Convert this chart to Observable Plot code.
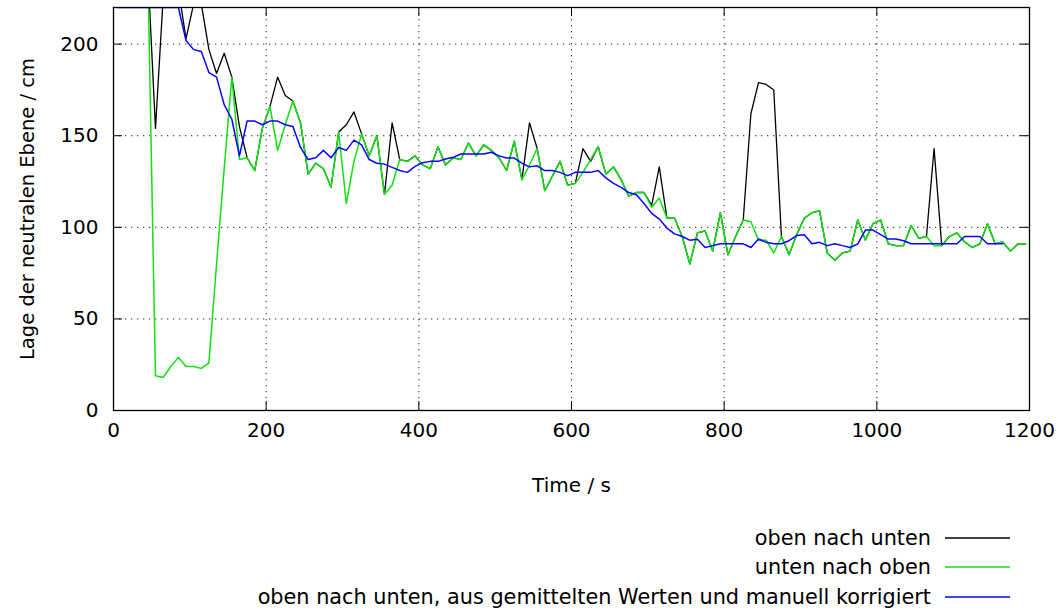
<!DOCTYPE html>
<html>
<head>
<meta charset="utf-8">
<script src="https://cdn.jsdelivr.net/npm/d3@7"></script>
<script src="https://cdn.jsdelivr.net/npm/@observablehq/plot@0.6"></script>
<style>
  body { margin: 0; background: #fff; font-family: "DejaVu Sans", sans-serif; }
  #wrap { position: relative; width: 1062px; height: 614px; overflow: hidden; }
  .lg { position: absolute; left: 0; width: 1062px; height: 24px; font-size: 20.8px; line-height: 24px; color: #000; }
  .lg .t { position: absolute; right: 131px; top: 0; white-space: nowrap; }
  .lg svg { position: absolute; left: 945px; top: 0; }
</style>
</head>
<body>
<div id="wrap"><div id="chart"></div><div id="legend"></div></div>
<script>
// Sample times (s)
const times = [5,15,25,35,45,55,65,75,85,95,105,115,125,135,145,155,165,175,185,195,
  205,215,225,235,245,255,265,275,285,295,305,315,325,335,345,355,365,375,385,395,
  405,415,425,435,445,455,465,475,485,495,505,515,525,535,545,555,565,575,585,595,
  605,615,625,635,645,655,665,675,685,695,705,715,725,735,745,755,765,775,785,795,
  805,815,825,835,845,855,865,875,885,895,905,915,925,935,945,955,965,975,985,995,
  1005,1015,1025,1035,1045,1055,1065,1075,1085,1095,1105,1115,1125,1135,1145,1155,1165,1175,1185,1195];

// "oben nach unten"
const obenNachUnten = [240,240,240,240,240,154,225,240,230,203,
  222,222,197,184,195,182,155,138,131,154,
  166,182,172,169,157,129,135,132,122,152,
  156,163,151,139,150,118,157,137,136,139,
  134,132,144,134,138,137,146,139,145,142,
  138,131,147,126,157,143,120,128,136,123,
  124,143,136,144,129,133,126,117,119,119,
  112,133,105,105,95,80,97,98,87,108,
  85,95,104,162,179,178,175,95,85,96,
  105,108,109,86,82,86,87,104,93,102,
  104,91,90,90,101,94,95,143,90,95,
  97,92,89,91,102,91,92,87,91,91];

// "unten nach oben"
const untenNachOben = [240,240,240,240,240,19,18,24,29,24,
  24,23,26,80,132,182,137,138,131,154,
  166,142,156,169,157,129,135,132,122,152,
  113,136,151,139,150,118,123,137,136,139,
  134,132,144,134,138,137,146,139,145,142,
  138,131,147,126,134,143,120,128,136,123,
  124,130,137,144,129,133,126,117,119,119,
  111,116,105,105,95,80,97,98,87,108,
  85,95,104,103,93,93,86,95,85,96,
  105,108,109,86,82,86,87,104,93,102,
  104,91,90,90,101,94,95,90,90,95,
  97,92,89,91,102,91,92,87,91,91];

// "oben nach unten, aus gemittelten Werten und manuell korrigiert"
const gemittelt = [220,220,220,220,220,220,220,220,220,202,
  197,196,184.5,182,167,159,139,158,158,156,
  158,158,156,155,143.6,137,138,142,138,143.6,
  142,147.6,145,137,135,134.5,132.7,131,130,133.3,
  135.3,136,136,137.3,138.2,140,140,140,140,141,
  139,137.8,137.8,135,133,133.6,131,131,130,128.2,
  130,130,130,131,127,124,121.8,119,117.8,113,
  107.6,104.5,99.6,96.4,95,93,93.5,89,90,91,
  91,91,91,89,93.6,91.8,91,91,92.7,95.5,
  96,91,91.8,90,91,90,89,91,98.5,98.5,
  96,93.6,93.6,92.7,91,91,91,91,91,91,
  91,95,95,95,91,91,91];

const xTicks = [0,200,400,600,800,1000,1200];
const yTicks = [0,50,100,150,200];
const seriesNames = ["oben nach unten", "unten nach oben",
  "oben nach unten, aus gemittelten Werten und manuell korrigiert"];
const seriesColors = ["#000000", "#11e011", "#0505ff"];
const xLabel = "Time / s";
const yLabel = "Lage der neutralen Ebene / cm";

const FONT = "DejaVu Sans";
const W = 1062, H = 510, ML = 113, MR = 33, MT = 7, MB = 100;
const pw = W - ML - MR, ph = H - MT - MB;

const mk = (vals) => vals.map((v, i) => ({t: times[i], v}));
const dBlack = mk(obenNachUnten), dGreen = mk(untenNachOben), dBlue = mk(gemittelt);

const grid = {stroke: "#000", strokeOpacity: 0.85, strokeWidth: 1, strokeDasharray: "1.3,4.7"};

const chart = Plot.plot({
  width: W, height: H,
  marginLeft: ML, marginRight: MR, marginTop: MT, marginBottom: MB,
  style: {fontFamily: FONT, fontSize: "20px", color: "#000", background: "#fff", overflow: "visible"},
  x: {domain: [0, 1200]},
  y: {domain: [0, 220]},
  marks: [
    Plot.gridX(xTicks, grid),
    Plot.gridY(yTicks, grid),
    Plot.tickX(xTicks, {x: d => d, insetTop: ph - 9, stroke: "#000"}),
    Plot.tickX(xTicks, {x: d => d, insetBottom: ph - 9, stroke: "#000"}),
    Plot.tickY(yTicks, {y: d => d, insetRight: pw - 9, stroke: "#000"}),
    Plot.tickY(yTicks, {y: d => d, insetLeft: pw - 9, stroke: "#000"}),
    Plot.line(dBlack, {x: "t", y: "v", stroke: seriesColors[0], strokeWidth: 1.3, clip: true}),
    Plot.line(dGreen, {x: "t", y: "v", stroke: seriesColors[1], strokeWidth: 1.5, clip: true}),
    Plot.line(dBlue, {x: "t", y: "v", stroke: seriesColors[2], strokeWidth: 1.5, clip: true}),
    Plot.frame({stroke: "#000", strokeWidth: 1.3}),
    Plot.axisX(xTicks, {tickSize: 0, tickPadding: 12, label: null, fontSize: 20, tickFormat: d => String(d)}),
    Plot.axisY(yTicks, {tickSize: 0, tickPadding: 15, label: null, fontSize: 20, tickFormat: d => String(d)}),
    Plot.text([xLabel], {frameAnchor: "bottom", dy: 75, lineAnchor: "middle", text: d => d, fontSize: 20}),
    Plot.text([yLabel], {frameAnchor: "left", dx: -86, rotate: -90, textAnchor: "middle", lineAnchor: "middle", text: d => d, fontSize: 19.5})
  ]
});
document.getElementById("chart").appendChild(chart);

const legend = document.getElementById("legend");
const rowY = [538, 567, 597];
const NS = "http://www.w3.org/2000/svg";
seriesNames.forEach((name, i) => {
  const row = document.createElement("div");
  row.className = "lg";
  row.style.top = (rowY[i] - 12) + "px";
  const t = document.createElement("span");
  t.className = "t";
  t.textContent = name;
  const svg = document.createElementNS(NS, "svg");
  svg.setAttribute("width", "66");
  svg.setAttribute("height", "24");
  const ln = document.createElementNS(NS, "line");
  ln.setAttribute("x1", "0"); ln.setAttribute("x2", "65");
  ln.setAttribute("y1", "12"); ln.setAttribute("y2", "12");
  ln.setAttribute("stroke", seriesColors[i]);
  ln.setAttribute("stroke-width", "1.5");
  svg.appendChild(ln);
  row.appendChild(t); row.appendChild(svg);
  legend.appendChild(row);
});
</script>
</body>
</html>
